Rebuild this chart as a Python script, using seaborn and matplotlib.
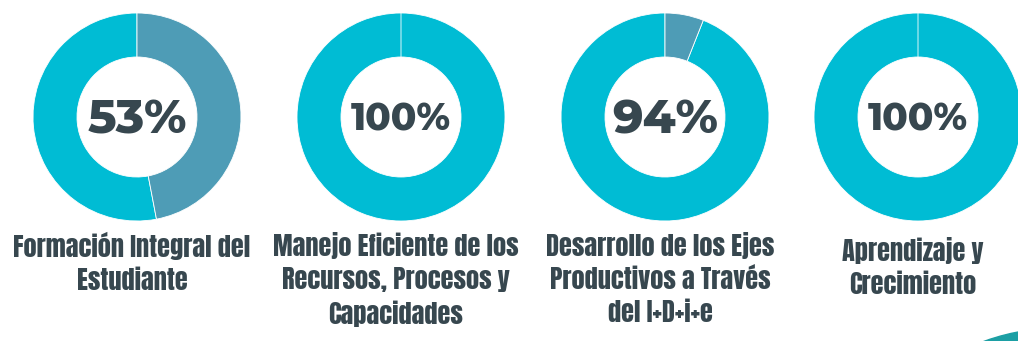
import matplotlib
matplotlib.use("Agg")
import matplotlib.pyplot as plt
from matplotlib import font_manager
from matplotlib.patches import Circle
import seaborn as sns

# Indicator data
labels = [
    "Formación Integral del\nEstudiante",
    "Manejo Eficiente de los\nRecursos, Procesos y\nCapacidades",
    "Desarrollo de los Ejes\nProductivos a Través\ndel I+D+i+e",
    "Aprendizaje y\nCrecimiento",
]
percentages = [53, 100, 94, 100]

sns.set_theme(style="white")
achieved_color, remaining_color = sns.color_palette(["#00BCD4", "#4E9CB6"])
text_color = "#37474F"

installed = {f.name for f in font_manager.fontManager.ttflist}


def pick(*families):
    for fam in families:
        if fam in installed:
            return fam
    return "DejaVu Sans"


label_font = pick("Anton", "Fjalla One", "Oswald")
number_font = pick("Montserrat Alternates", "DejaVu Sans")

W, H = 1018, 341
fig = plt.figure(figsize=(W / 100, H / 100), dpi=100)
ax = fig.add_axes([0, 0, 1, 1])

centers_x = [137, 401, 665, 918]
center_y = H - 117
outer_r = 104
ring_w = 44

for cx, pct, lab in zip(centers_x, percentages, labels):
    ax.pie([pct, 100 - pct], center=(cx, center_y), radius=outer_r,
           colors=[achieved_color, remaining_color], startangle=90,
           counterclock=True,
           wedgeprops=dict(width=ring_w, edgecolor="white", linewidth=0.6),
           frame=True)
    size = 34 if pct < 100 else 27
    ax.text(cx, center_y - 3, f"{pct}%", ha="center", va="center",
            fontsize=size, fontweight=800, color=text_color,
            family=number_font)
    top = H - (237 if lab.startswith("Apr") else 232)
    ax.text(cx - 5, top, lab, ha="center", va="top", fontsize=19,
            color=text_color, family=label_font, linespacing=1.36)

ax.set_xlim(0, W)
ax.set_ylim(0, H)
ax.set_aspect("equal")
ax.axis("off")

# corner accent
ax.add_patch(Circle((1060, -210), 223, color="#1C9FA4", zorder=0, clip_on=True))

fig.savefig("out.png", dpi=100, facecolor="white")
